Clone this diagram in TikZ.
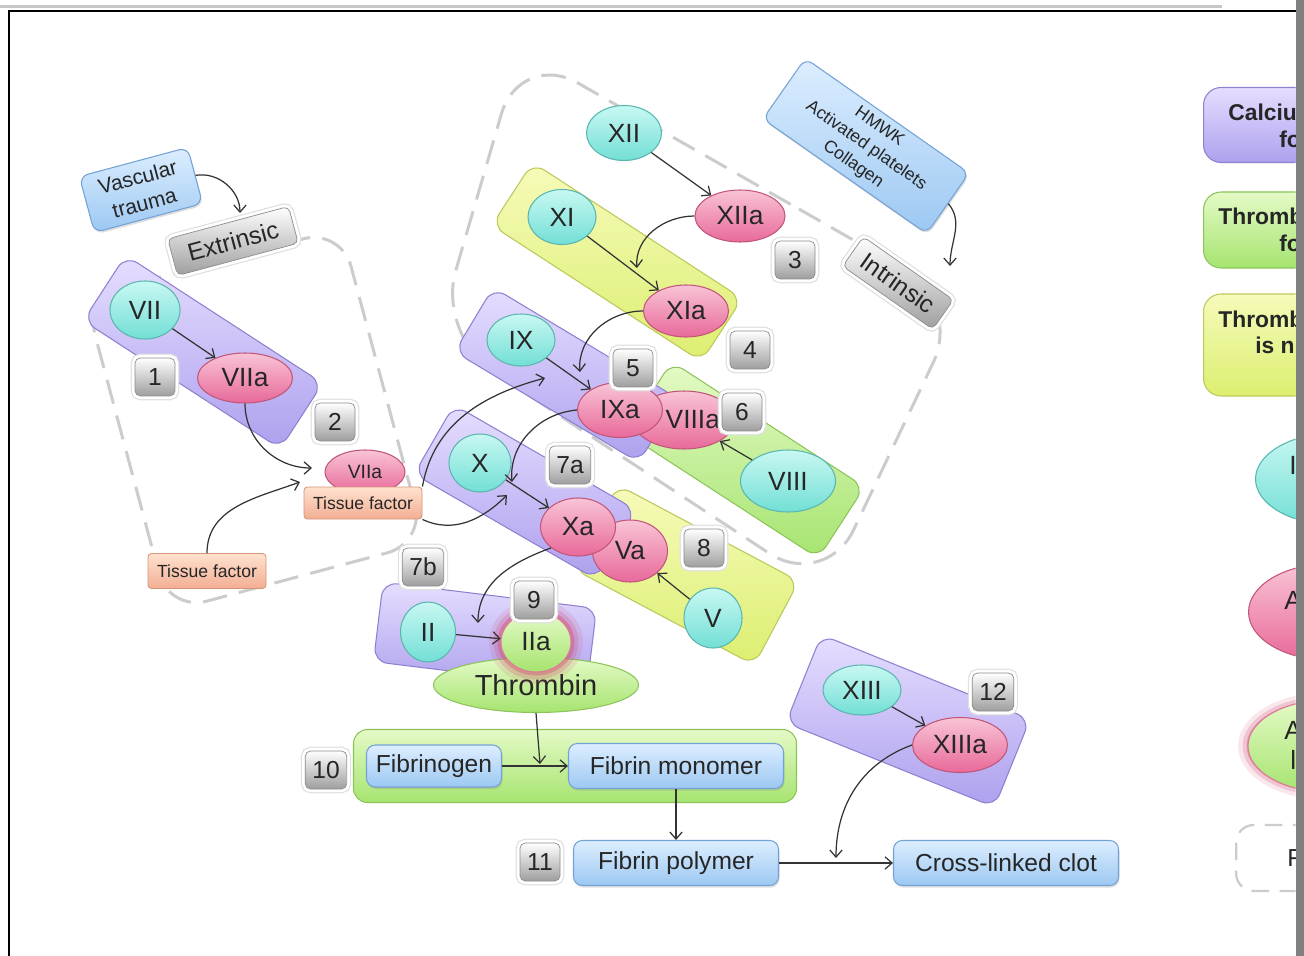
\documentclass[tikz,border=0pt]{standalone}
\usepackage{fontspec}
\setmainfont{Liberation Sans}
\usetikzlibrary{arrows.meta,shapes.geometric,shadows,calc}
\definecolor{cyanA}{HTML}{C8F8F2}\definecolor{cyanB}{HTML}{72DFD6}\definecolor{cyanD}{HTML}{5AB6AE}
\definecolor{pinkA}{HTML}{F9C4D6}\definecolor{pinkB}{HTML}{E8699A}\definecolor{pinkD}{HTML}{C2567A}
\definecolor{purA}{HTML}{E6DEFF}\definecolor{purB}{HTML}{ADA0EE}\definecolor{purD}{HTML}{8F80D0}
\definecolor{yelA}{HTML}{F6FBBA}\definecolor{yelB}{HTML}{DDEE70}\definecolor{yelD}{HTML}{BCC85A}
\definecolor{grnA}{HTML}{E4FAC6}\definecolor{grnB}{HTML}{A6E470}\definecolor{grnD}{HTML}{8CC45A}
\definecolor{bluA}{HTML}{DDEEFF}\definecolor{bluB}{HTML}{9CC8F2}\definecolor{bluD}{HTML}{74A2D6}
\definecolor{salA}{HTML}{FFE2CE}\definecolor{salB}{HTML}{F2AE94}\definecolor{salD}{HTML}{D4967A}
\definecolor{glowc}{HTML}{D0406A}
\tikzset{
 base/.style={inner sep=0pt, text=black!85},
 sz/.style 2 args={minimum width=#1*0.02cm, minimum height=#2*0.02cm},
 fac/.style={base, ellipse, draw=cyanD, line width=0.6pt, top color=cyanA, bottom color=cyanB, font=\fontsize{15}{17}\selectfont},
 act/.style={base, ellipse, draw=pinkD, line width=0.6pt, top color=pinkA, bottom color=pinkB, font=\fontsize{15}{17}\selectfont},
 thr/.style={base, ellipse, draw=grnD, line width=0.6pt, top color=grnA, bottom color=grnB, font=\fontsize{15}{17}\selectfont},
 pgrp/.style={rounded corners=8pt, draw=purD, line width=0.6pt, top color=purA, bottom color=purB},
 ygrp/.style={rounded corners=8pt, draw=yelD, line width=0.6pt, top color=yelA, bottom color=yelB},
 ggrp/.style={rounded corners=8pt, draw=grnD, line width=0.6pt, top color=grnA, bottom color=grnB},
 bbox/.style={base, rounded corners=5pt, draw=bluD, line width=0.6pt, top color=bluA, bottom color=bluB, drop shadow={opacity=0.25, shadow xshift=0.6pt, shadow yshift=-1.2pt}, font=\fontsize{14}{16}\selectfont},
 gbox/.style={base, rounded corners=3pt, draw=black!45, top color=white, bottom color=black!38, preaction={draw=black!12, line width=5pt}, preaction={draw=white, line width=3.6pt}, font=\fontsize{14}{16}\selectfont},
 num/.style={gbox, minimum width=0.8cm, minimum height=0.76cm, inner xsep=4pt},
 tfbox/.style={base, rounded corners=2pt, draw=salD, line width=0.5pt, top color=salA, bottom color=salB, font=\fontsize{10}{12}\selectfont},
 region/.style={draw=black!20, line width=1.7pt, dash pattern=on 14pt off 7pt},
 arr/.style={draw=black!80, line width=0.7pt, -{Straight Barb[length=4pt,width=7pt]}},
 leg/.style={base, font=\bfseries\fontsize{13}{15}\selectfont, anchor=west},
}
\begin{document}
\begin{tikzpicture}[x=0.02cm,y=-0.02cm]
\useasboundingbox (0,0) rectangle (1304,956);
\fill[white] (0,0) rectangle (1304,956);
% frame
\fill[black!22] (0,5) rectangle (1222,8.5);
\draw[black, line width=1.4pt] (9,956) -- (9,11) -- (1296,11);
\fill[black!50] (1296,0) rectangle (1304,956);

% dashed regions
\node[region, rounded corners=22pt, rotate=15, sz={265}{325}] (extreg) at (255,420) {};
\coordinate (I0) at (520,50);
\coordinate (I1) at (962,302);
\coordinate (I2) at (825,590);
\coordinate (I3) at (437,335);
\draw[region, rounded corners=38pt] ($(I0)!0.5!(I1)$) -- (I1) -- (I2) -- (I3) -- (I0) -- cycle;

% group boxes
\node[pgrp, rotate=-33, sz={235}{78}] (g1) at (203,352) {};
\node[ygrp, rotate=-33, sz={250}{75}] (g4) at (617,262) {};
\node[ggrp, rotate=-33, sz={230}{85}] (g6) at (745,460) {};
\node[pgrp, rotate=-31, sz={215}{75}] (g5) at (566,375) {};
\node[ygrp, rotate=-28, sz={205}{95}] (g8) at (686,575) {};
\node[pgrp, rotate=-30, sz={210}{80}] (g7) at (525,492) {};
\node[pgrp, rotate=-7, sz={215}{80}] (g9) at (485,635) {};
\node[pgrp, rotate=-22, sz={225}{95}] (g12) at (908,721) {};
\node[ggrp, sz={443}{73}] (g10) at (575,766) {};

% text boxes
\node[bbox, rotate=15, sz={112}{58}, align=center, font=\fontsize{12}{15}\selectfont] (vt) at (141,190) {Vascular\\trauma};
\node[gbox, rotate=15, sz={125}{38}] (ext) at (233,241) {Extrinsic};
\node[bbox, rotate=-35, sz={200}{74}, align=center, font=\fontsize{10}{13}\selectfont] (hm) at (866,146) {HMWK\\Activated platelets\\Collagen};
\node[gbox, rotate=-35, sz={110}{36}] (intr) at (898,283) {Intrinsic};

% factors
\node[fac, sz={70}{58}] (VII) at (145,310) {VII};
\node[act, sz={95}{50}] (VIIa) at (245,378) {VIIa};
\node[act, sz={80}{44}, font=\fontsize{11}{12}\selectfont] (VIIs) at (365,472) {VIIa};
\node[tfbox, sz={118}{32}] (tfc) at (363,503) {Tissue factor};
\node[tfbox, sz={118}{35}] (tf) at (207,571) {Tissue factor};

\node[fac, sz={75}{55}] (XII) at (624,133) {XII};
\node[act, sz={90}{52}] (XIIa) at (740,216) {XIIa};
\node[fac, sz={68}{55}] (XI) at (562,217) {XI};
\node[act, sz={85}{52}] (XIa) at (686,311) {XIa};
\node[fac, sz={68}{52}] (IX) at (521,340) {IX};
\node[act, sz={95}{58}] (VIIIa) at (684,420) {\hspace*{10pt}VIIIa};
\node[act, sz={85}{55}] (IXa) at (620,410) {IXa};
\node[fac, sz={95}{62}] (VIII) at (788,481) {VIII};
\node[fac, sz={62}{58}] (X) at (480,463) {X};
\node[act, sz={75}{62}] (Va) at (630,551) {Va};
\node[act, sz={75}{58}] (Xa) at (578,527) {Xa};
\node[fac, sz={58}{60}] (V) at (713,618) {V};
\node[fac, sz={55}{60}] (II) at (428,632) {II};
\node[thr, sz={205}{55}, font=\fontsize{16.5}{18}\selectfont] (thr) at (536,685) {Thrombin};
\coordinate (c9) at (536,642);
\fill[glowc, opacity=0.12] (c9) ellipse [x radius=0.94cm, y radius=0.84cm];
\fill[glowc, opacity=0.2] (c9) ellipse [x radius=0.85cm, y radius=0.75cm];
\fill[glowc, opacity=0.35] (c9) ellipse [x radius=0.77cm, y radius=0.67cm];
\node[thr, sz={70}{60}, draw=glowc!70] (IIa) at (c9) {IIa};
\node[fac, sz={78}{50}] (XIII) at (862,690) {XIII};
\node[act, sz={95}{55}] (XIIIa) at (960,745) {XIIIa};

\node[bbox, sz={135}{42}] (fg) at (434,766) {Fibrinogen};
\node[bbox, sz={215}{45}] (fm) at (676,766) {Fibrin monomer};
\node[bbox, sz={205}{45}] (fp) at (676,863) {Fibrin polymer};
\node[bbox, sz={225}{45}] (clot) at (1006,863) {Cross-linked clot};

% connector ends
\coordinate (cA) at (312,468);
\coordinate (cB) at (300,482);
\coordinate (cC) at (545,378);
\coordinate (cD) at (507,495);
\coordinate (cE) at (637,268);
\coordinate (cF) at (580,372);
\coordinate (cG) at (512,482);
\coordinate (cH) at (478,623);
\coordinate (c10) at (540,764);
\coordinate (cI) at (836,858);
\coordinate (cJ) at (950,266);
\coordinate (cK) at (240,213);

% arrows
\draw[arr] (vt.east) to[out=10,in=90] (cK);
\draw[arr] (hm.east) to[out=-50,in=90] (cJ);
\draw[arr] (VII) -- (VIIa);
\draw[arr] (VIIa.south) to[out=-90,in=180] (cA);
\draw[arr] (tf.north) to[out=90,in=200] (cB);
\draw[arr] (tfc.north east) to[out=80,in=195] (cC);
\draw[arr] (tfc.south east) to[out=-25,in=225] (cD);
\draw[arr] (XII) -- (XIIa);
\draw[arr] (XI) -- (XIa);
\draw[arr] (XIIa.west) to[out=180,in=95] (cE);
\draw[arr] (IX) -- (IXa);
\draw[arr] (XIa.west) to[out=180,in=95] (cF);
\draw[arr] (VIII) -- (VIIIa);
\draw[arr] (X) -- (Xa);
\draw[arr] (IXa.west) to[out=185,in=95] (cG);
\draw[arr] (V) -- (Va);
\draw[arr] (Xa.south west) to[out=200,in=90] (cH);
\draw[arr] (II) -- (IIa);
\draw[arr] (thr.south) -- (c10);
\draw[arr] (fg) -- (fm);
\draw[arr] (fm) -- (fp);
\draw[arr] (fp) -- (clot);
\draw[arr] (XIII) -- (XIIIa);
\draw[arr] (XIIIa.west) to[out=200,in=90] (cI);

% step numbers
\node[num] (n1) at (155,377) {1};
\node[num] (n2) at (335,422) {2};
\node[num] (n3) at (795,260) {3};
\node[num] (n4) at (750,350) {4};
\node[num] (n5) at (633,368) {5};
\node[num] (n6) at (742,412) {6};
\node[num] (n7a) at (570,465) {7a};
\node[num] (n7b) at (423,567) {7b};
\node[num] (n8) at (704,548) {8};
\node[num] (n9) at (534,600) {9};
\node[num] (n10) at (326,770) {10};
\node[num] (n11) at (540,862) {11};
\node[num] (n12) at (993,692) {12};

% legend (cut at right edge)
\begin{scope}
\clip (0,0) rectangle (1295.5,956);
\node[pgrp, rounded corners=10pt, sz={150}{75}, anchor=west] (L1) at (1203,125) {};
\node[leg] (L1a) at (1228,112) {Calciu};
\node[leg] (L1b) at (1279,139) {fo};
\node[ggrp, rounded corners=10pt, sz={150}{76}, anchor=west] (L2) at (1203,230) {};
\node[leg] (L2a) at (1218,216) {Thromb};
\node[leg] (L2b) at (1279,243) {fo};
\node[ygrp, rounded corners=10pt, sz={150}{102}, anchor=west] (L3) at (1203,345) {};
\node[leg] (L3a) at (1218,319) {Thromb};
\node[leg] (L3b) at (1255,345) {is n};
\node[fac, sz={160}{92}, anchor=west] (L4) at (1255,479) {};
\node[leg, font=\fontsize{15}{17}\selectfont] (L4a) at (1289,465) {I};
\node[act, sz={160}{96}, anchor=west] (L5) at (1248,612) {};
\node[leg, font=\fontsize{15}{17}\selectfont] (L5a) at (1284,600) {A};
\coordinate (c13) at (1328,746);
\fill[glowc, opacity=0.12] (c13) ellipse [x radius=1.80cm, y radius=1.08cm];
\fill[glowc, opacity=0.2] (c13) ellipse [x radius=1.71cm, y radius=1.0cm];
\fill[glowc, opacity=0.35] (c13) ellipse [x radius=1.63cm, y radius=0.93cm];
\node[thr, sz={160}{92}, draw=glowc!70] (L6) at (c13) {};
\node[leg, font=\fontsize{15}{17}\selectfont] (L6a) at (1284,730) {A};
\node[leg, font=\fontsize{15}{17}\selectfont] (L6b) at (1290,760) {l};
\node[draw=black!20, line width=1.3pt, dash pattern=on 10pt off 6pt, rounded corners=10pt, sz={120}{66}, anchor=west] (L7) at (1235,858) {};
\node[leg, font=\fontsize{14}{16}\selectfont] (L7a) at (1287,858) {F};
\end{scope}
\end{tikzpicture}
\end{document}
